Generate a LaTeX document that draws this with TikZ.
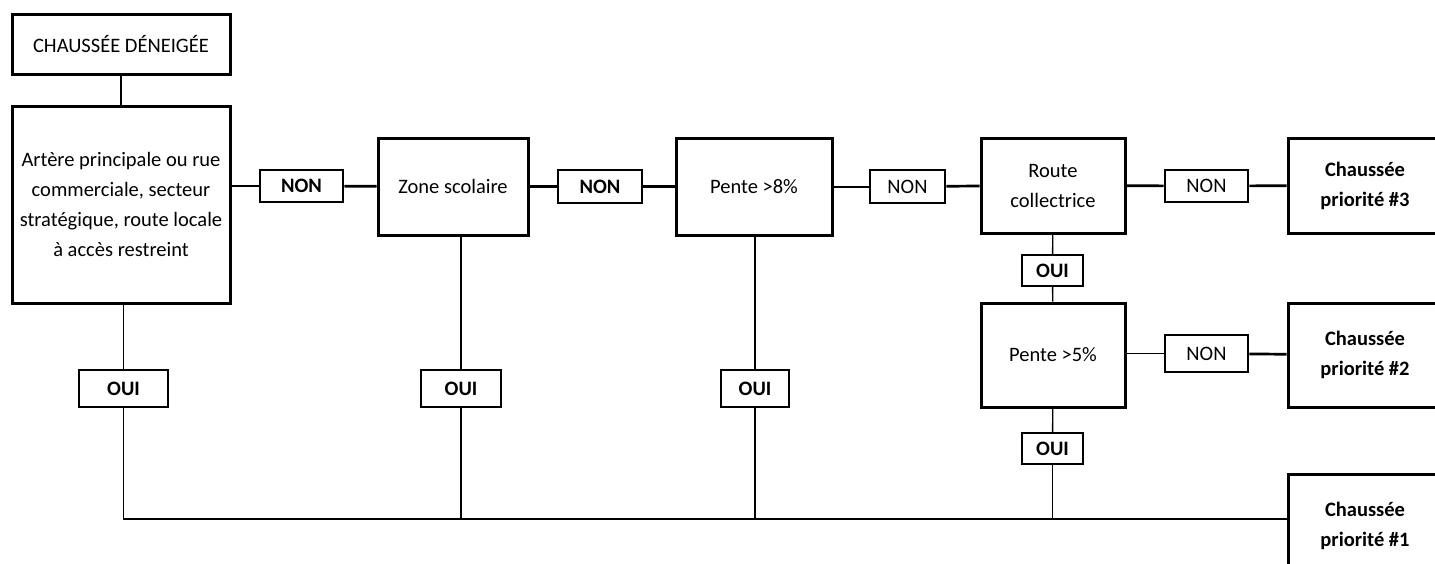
\documentclass[tikz,border=0pt]{standalone}
\usepackage{fontspec}
\setmainfont{Carlito}
\newcommand\boxfont{\fontsize{20.5}{30}\selectfont}
\begin{document}
\begin{tikzpicture}[x=1pt, y=-1pt,
  every node/.style={font=\boxfont, inner sep=0pt, align=center},
  box/.style={draw, line width=3pt},
  tag/.style={draw, line width=2.7pt, font=\boxfont\bfseries},
  plaintag/.style={draw, line width=2.7pt},
  thintag/.style={draw, line width=1.3pt, font=\boxfont\bfseries},
  prio/.style={box, font=\boxfont\bfseries, minimum width=154pt, minimum height=95pt},
  link/.style={line width=2.7pt},
  thin/.style={line width=1.3pt}]
  \useasboundingbox (0,0) rectangle (1435,563);
  \node [box, minimum width=218pt, minimum height=60pt] (top) at (121,44) {CHAUSSÉE DÉNEIGÉE};
  \node [box, minimum width=218pt, minimum height=197pt] (main) at (121,204.5) {Artère principale ou rue\\commerciale, secteur\\stratégique, route locale\\à accès restreint};
  \node [tag, minimum width=83pt, minimum height=32pt] (non1) at (301.5,186) {NON};
  \node [box, minimum width=150pt, minimum height=97pt] (zone) at (453,186.5) {Zone scolaire};
  \node [tag, minimum width=84pt, minimum height=33pt] (non2) at (600,186.5) {NON};
  \node [box, minimum width=156pt, minimum height=97pt] (pente8) at (754,186.5) {Pente >8\%};
  \node [plaintag, minimum width=75pt, minimum height=33pt] (non3) at (907.5,186.5) {NON};
  \node [box, minimum width=144pt, minimum height=95pt] (route) at (1053,185.5) {Route\\collectrice};
  \node [plaintag, minimum width=83pt, minimum height=32pt] (non4) at (1206.5,186) {NON};
  \node [prio] (prio3) at (1365,185.5) {Chaussée\\priorité \#3};
  \node [thintag, minimum width=61pt, minimum height=31pt] (ouiR) at (1052.5,270.5) {OUI};
  \node [box, minimum width=144pt, minimum height=104pt] (pente5) at (1053,355) {Pente >5\%};
  \node [plaintag, minimum width=83pt, minimum height=37pt] (non5) at (1206.5,353.5) {NON};
  \node [prio, minimum height=104pt] (prio2) at (1365,355) {Chaussée\\priorité \#2};
  \node [thintag, minimum width=61pt, minimum height=31pt] (ouiP) at (1052.5,448.5) {OUI};
  \node [prio, minimum height=104pt] (prio1) at (1365,526) {Chaussée\\priorité \#1};
  \node [tag, minimum width=89pt, minimum height=37pt] (oui1) at (123.5,388.5) {OUI};
  \node [tag, minimum width=80pt, minimum height=37pt] (oui2) at (461,388.5) {OUI};
  \node [tag, minimum width=68pt, minimum height=37pt] (oui3) at (755,388.5) {OUI};
  \coordinate (bus) at (123.5,519);
  \draw [thin] (top) -- (main);
  \draw [link] (non1.west) -- (non1.west -| main.east);
  \draw [link] (non1) -- (zone);
  \draw [link] (zone) -- (non2);
  \draw [link] (non2) -- (pente8);
  \draw [line width=2pt] (pente8) -- (non3);
  \draw [link] (non3) -- (route);
  \draw [link] (route) -- (non4);
  \draw [link] (non4) -- (prio3);
  \draw [thin] (route) -- (ouiR);
  \draw [thin] (ouiR) -- (pente5);
  \draw [thin] (pente5.east |- non5.west) -- (non5.west);
  \draw [link] (non5) -- (prio2);
  \draw [thin] (pente5) -- (ouiP);
  \draw [thin] (main.south -| oui1.north) -- (oui1.north);
  \draw [thin] (zone.south -| oui2.north) -- (oui2.north);
  \draw [thin] (pente8.south -| oui3.north) -- (oui3.north);
  \draw [thin] (oui1.south) -- (bus) -- (bus -| prio1.west);
  \draw [thin] (oui2.south) -- (oui2.south |- bus);
  \draw [thin] (oui3.south) -- (oui3.south |- bus);
  \draw [thin] (ouiP.south) -- (ouiP.south |- bus);
\end{tikzpicture}
\end{document}
